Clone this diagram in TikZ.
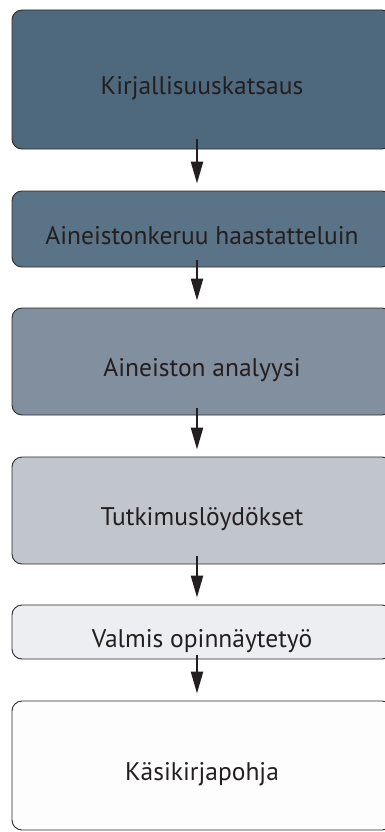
\documentclass[tikz,border=0pt]{standalone}
\usepackage{fontspec}
\setmainfont{PT Sans}
\usetikzlibrary{arrows.meta}
\definecolor{stageA}{HTML}{4E697E}
\definecolor{stageB}{HTML}{5B7387}
\definecolor{stageC}{HTML}{818F9E}
\definecolor{stageD}{HTML}{C1C5CC}
\definecolor{stageE}{HTML}{EDEEF2}
\definecolor{stageF}{HTML}{FDFDFD}
\definecolor{lineDark}{HTML}{2B2B2B}
\definecolor{txtDark}{HTML}{231F20}

\begin{document}
\begin{tikzpicture}[x=1pt, y=-1pt,
  stage/.style={draw=lineDark, line width=0.9pt, rounded corners=10pt,
                minimum width=380pt, inner sep=0pt, text height=30pt,
                text depth=0pt, text=txtDark, font=\fontsize{25.5}{30}\selectfont},
  flow/.style={-{Triangle[width=12pt,length=22pt]}, line width=2.4pt, draw=txtDark},
]
  \useasboundingbox (0,0) rectangle (384,832);
  \node[stage, fill=stageA, minimum height=139pt] (lit) at (202,79.5) {Kirjallisuuskatsaus};
  \node[stage, fill=stageB, minimum height=76pt] (haast) at (202,229) {Aineistonkeruu haastatteluin};
  \node[stage, fill=stageC, minimum height=107pt] (anal) at (202,361.5) {Aineiston analyysi};
  \node[stage, fill=stageD, minimum height=107pt] (loyd) at (202,510.5) {Tutkimuslöydökset};
  \node[stage, fill=stageE, minimum height=54pt] (valmis) at (202,632) {Valmis opinnäytetyö};
  \node[stage, fill=stageF, minimum height=129pt] (pohja) at (202,765.5) {Käsikirjapohja};

  % arrows between stages
  \foreach \a/\b/\s in {lit/haast/10, haast/anal/7, anal/loyd/7, loyd/valmis/8, valmis/pohja/4}
    \draw[flow] ([xshift=-5pt,yshift=\s pt]\a.south) -- ([xshift=-5pt,yshift=7pt]\b.north);
\end{tikzpicture}
\end{document}
